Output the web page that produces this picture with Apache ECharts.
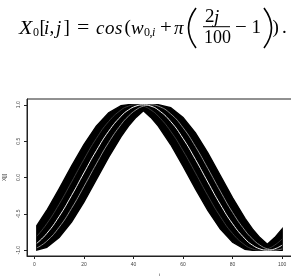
<!DOCTYPE html>
<html>
<head>
<meta charset="utf-8">
<script src="https://cdn.jsdelivr.net/npm/echarts@6/dist/echarts.min.js"></script>
<style>
html, body { margin: 0; padding: 0; background: #fff; }
#main { width: 291px; height: 276px; }
</style>
</head>
<body>
<div id="main"></div>
<script>
// sample positions along j
var xs = [1, 5, 10, 15, 20, 25, 30, 35, 38, 41, 44, 47, 50, 55, 60, 65, 70, 75, 80, 85, 88, 91, 94, 97, 100];
// top and bottom edge of the black band of curves
var upper = [-0.661, -0.454, -0.156, 0.156, 0.454, 0.707, 0.891, 0.988, 1, 1, 1, 1, 1, 0.960, 0.827, 0.613, 0.339, 0.031, -0.279, -0.562, -0.707, -0.827, -0.918, -0.827, -0.707];
var lower = [-0.999, -0.960, -0.827, -0.613, -0.339, -0.031, 0.279, 0.562, 0.707, 0.827, 0.918, 0.827, 0.707, 0.454, 0.156, -0.156, -0.454, -0.707, -0.891, -0.988, -1, -1, -1, -1, -1];
// white middle curve and two lighter curves inside the band
var whiteLine = [-0.905, -0.771, -0.536, -0.249, 0.063, 0.368, 0.637, 0.844, 0.930, 0.982, 1, 0.982, 0.930, 0.771, 0.536, 0.249, -0.063, -0.368, -0.637, -0.844, -0.930, -0.982, -1, -0.982, -0.930];
var grayLine = [-0.969, -0.876, -0.685, -0.426, -0.125, 0.187, 0.482, 0.729, 0.844, 0.930, 0.982, 1, 0.982, 0.876, 0.685, 0.426, 0.125, -0.187, -0.482, -0.729, -0.844, -0.930, -0.982, -1, -0.982];
var darkLine = [-0.809, -0.637, -0.368, -0.063, 0.249, 0.536, 0.771, 0.930, 0.982, 1, 0.982, 0.930, 0.844, 0.637, 0.368, 0.063, -0.249, -0.536, -0.771, -0.930, -0.982, -1, -0.982, -0.930, -0.844];
var xTicks = [0, 20, 40, 60, 80, 100];
var yTicks = [-1, -0.5, 0, 0.5, 1];

function pairs(ys) {
    return xs.map(function (x, i) { return [x, ys[i]]; });
}

var serif = '"Liberation Serif", "DejaVu Serif", serif';
function tx(x, y, s, size, italic, sx) {
    return {
        type: 'text', x: x, y: y, scaleX: sx || 1, silent: true,
        style: {
            text: s, fill: '#000', fontFamily: serif, fontSize: size,
            fontStyle: italic ? 'italic' : 'normal',
            align: 'left', verticalAlign: 'middle'
        }
    };
}
function paren(x1, cpx) {
    return {
        type: 'bezierCurve', silent: true,
        shape: { x1: x1, y1: 8, x2: x1, y2: 48, cpx1: cpx, cpy1: 28 },
        style: { stroke: '#000', lineWidth: 1.6, fill: null }
    };
}

// the formula above the plot
var my = 28.5, sub = 32.5;
var formula = [
    tx(19, my, 'X', 19, true, 1.15),
    tx(33, sub, '0', 12),
    tx(39.5, my, '[', 19),
    tx(44, my, 'i', 19, true),
    tx(49.5, my, ',', 19),
    tx(56, my, 'j', 19, true),
    tx(63.5, my, ']', 19),
    tx(77, my, '=', 19, false, 1.15),
    tx(96, my, 'c', 19, true),
    tx(105, my, 'o', 19, true),
    tx(115, my, 's', 19, true),
    tx(124.5, my, '(', 19),
    tx(131, my, 'w', 19, true),
    tx(144, sub, '0', 12),
    tx(149.5, sub, ',', 12),
    tx(152, sub, 'i', 12, true),
    tx(160, my, '+', 19, false, 1.1),
    tx(174, my, 'π', 19, true),
    paren(196, 181),
    tx(205, 17.5, '2', 19),
    tx(214, 17.5, 'j', 19, true),
    { type: 'line', silent: true, shape: { x1: 203, y1: 26.7, x2: 230, y2: 26.7 }, style: { stroke: '#000', lineWidth: 1 } },
    tx(204, 38.5, '100', 18),
    tx(235, my, '\u2212', 19, false, 1.1),
    tx(251.5, my, '1', 19),
    paren(264, 279),
    tx(272.5, my, ')', 19),
    tx(282, my, '.', 19)
];

var chartDom = document.getElementById('main');
var myChart = echarts.init(chartDom);
var option;

option = {
    animation: false,
    backgroundColor: '#fff',
    graphic: formula,
    grid: {
        left: 27, right: -1, top: 99, bottom: 20,
        outerBoundsMode: 'none',
        show: true, borderColor: '#222', borderWidth: 1
    },
    xAxis: {
        type: 'value',
        min: -2.96, max: 103.96,
        name: 'j', nameLocation: 'middle', nameGap: 17,
        nameTextStyle: { fontSize: 5, color: '#333' },
        axisLine: { show: true, onZero: false, lineStyle: { color: '#222' } },
        axisTick: { show: true, length: 3, customValues: xTicks, lineStyle: { color: '#222' } },
        axisLabel: { fontSize: 5, color: '#444', margin: 6, customValues: xTicks },
        splitLine: { show: false }
    },
    yAxis: {
        type: 'value',
        min: -1.08, max: 1.08,
        name: 'X[j]', nameLocation: 'middle', nameGap: 20,
        nameTextStyle: { fontSize: 5, color: '#333' },
        axisLine: { show: true, onZero: false, lineStyle: { color: '#222' } },
        axisTick: { show: true, length: 3, customValues: yTicks, lineStyle: { color: '#222' } },
        axisLabel: {
            fontSize: 5, color: '#444', margin: 6, rotate: 90, customValues: yTicks,
            formatter: function (v) { return v.toFixed(1); }
        },
        splitLine: { show: false }
    },
    series: [
        {
            // band between the lower and upper edges, drawn as one polygon through the axes
            name: 'band', type: 'custom', clip: true,
            data: [[xs[0], lower[0]]],
            renderItem: function (params, api) {
                var pts = [];
                for (var i = 0; i < xs.length; i++) pts.push(api.coord([xs[i], upper[i]]));
                for (var k = xs.length - 1; k >= 0; k--) pts.push(api.coord([xs[k], lower[k]]));
                return {
                    type: 'polygon',
                    shape: { points: pts },
                    style: { fill: '#000', stroke: '#000', lineWidth: 1.4 }
                };
            }
        },
        {
            name: 'dark', type: 'line', data: pairs(darkLine), symbol: 'none', smooth: true,
            lineStyle: { color: '#3a3a3a', width: 1 }
        },
        {
            name: 'gray', type: 'line', data: pairs(grayLine), symbol: 'none', smooth: true,
            lineStyle: { color: '#8a8a8a', width: 1 }
        },
        {
            name: 'white', type: 'line', data: pairs(whiteLine), symbol: 'none', smooth: true,
            lineStyle: { color: '#f4f4f4', width: 1 }
        }
    ]
};

option && myChart.setOption(option);
</script>
</body>
</html>
